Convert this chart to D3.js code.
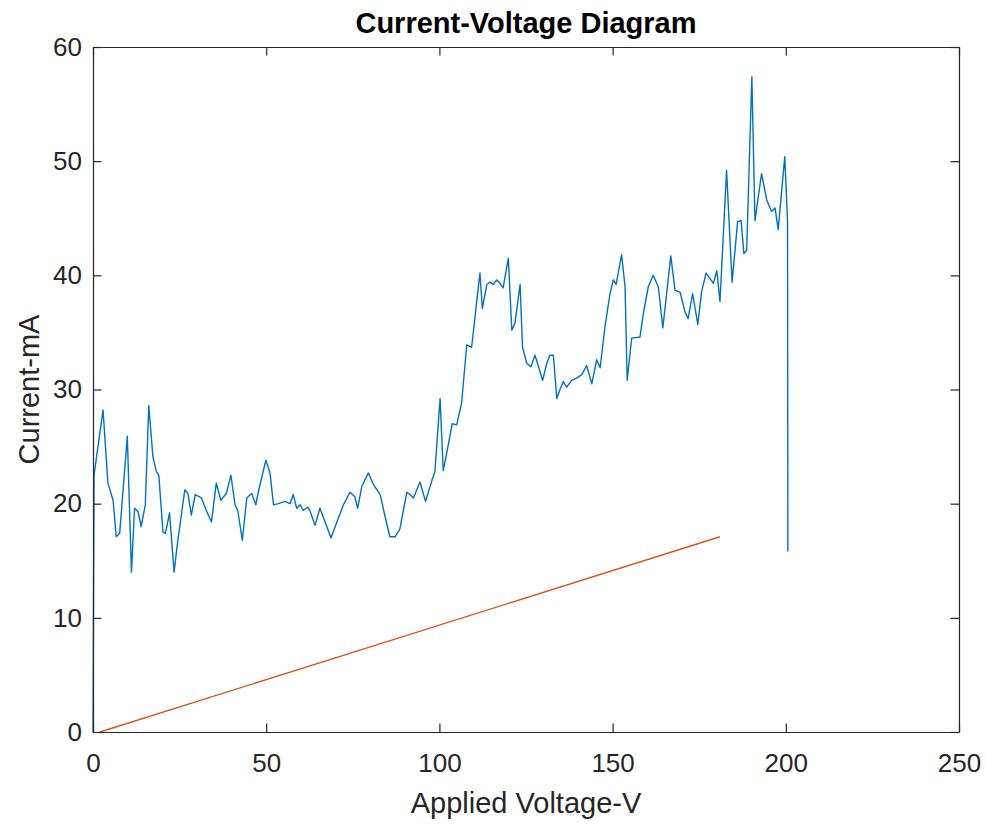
<!DOCTYPE html>
<html>
<head>
<meta charset="utf-8">
<script src="https://cdn.jsdelivr.net/npm/d3@7"></script>
<style>
  html, body { margin: 0; padding: 0; background: #fff; }
  svg { display: block; font-family: "Liberation Sans", Arial, Helvetica, sans-serif; }
</style>
</head>
<body>
<svg id="chart" width="986" height="824"></svg>
<script>
// Measured current (mA) against applied voltage (V)
const voltage = [0,0.3,1.2,2.9,4.3,5.8,6.7,7.7,9.9,11.1,12.0,13.0,13.9,15.1,16.1,17.3,18.3,19.0,20.2,20.9,22.1,23.4,24.5,26.5,27.4,28.4,29.5,31.3,32.7,34.2,35.6,36.9,38.5,39.8,41.0,41.8,43.1,44.4,45.8,47.0,47.7,49.9,51.1,52.1,53.5,55.4,56.9,57.8,58.8,59.8,60.7,62.0,62.6,64.1,65.5,67.0,68.7,70.3,72.3,74.2,75.6,76.4,77.6,79.5,80.9,82.9,84.3,85.7,87.2,88.6,90.6,91.5,92.5,94.4,96.0,97.8,98.7,100.2,101.1,102.1,103.7,105.0,106.4,107.9,109.3,110.3,111.7,112.4,113.7,114.6,115.6,116.5,117.5,118.4,119.9,120.9,121.8,123.3,124.0,125.2,126.4,127.6,128.5,129.8,131.0,131.9,132.9,133.9,134.8,135.8,136.7,138.2,139.6,141.1,142.5,144.0,145.4,146.4,147.8,149.2,150.2,151.0,152.6,153.6,154.2,155.5,157.9,158.9,160.3,161.7,163.2,164.5,165.6,166.8,168.0,169.5,170.9,171.8,173.1,174.6,175.7,177.0,178.4,179.1,180.1,181.0,182.9,184.5,186.1,187.1,187.9,188.7,190.2,191.1,193.0,194.5,195.9,196.9,197.8,199.7,200.5,200.6];
const current = [0,22.5,24.5,28.2,21.8,20.3,17.1,17.4,25.9,14.0,19.6,19.3,18.0,19.9,28.6,24.1,22.8,22.5,17.5,17.4,19.2,14.0,16.8,21.2,20.9,19.0,20.8,20.5,19.4,18.4,21.8,20.3,20.9,22.5,19.9,19.4,16.8,20.5,20.9,19.9,21.0,23.8,22.7,19.9,20.0,20.2,20.0,20.8,19.6,19.9,19.4,19.7,19.4,18.1,19.6,18.4,17.0,18.3,19.9,21.0,20.6,19.6,21.5,22.7,21.7,20.8,18.9,17.1,17.1,17.8,21.0,20.8,20.5,21.9,20.2,22.0,22.8,29.2,22.9,24.4,27.0,26.9,28.8,33.9,33.7,36.4,40.2,37.1,39.2,39.4,39.2,39.6,39.3,38.9,41.5,35.2,35.8,39.2,33.7,32.3,32.0,33.0,32.1,30.8,32.3,33.0,33.0,29.2,30.0,30.7,30.2,30.8,31.0,31.3,32.1,30.5,32.6,31.9,35.5,38.3,39.6,39.2,41.8,39.0,30.8,34.5,34.6,36.7,39.0,40.0,39.0,35.4,38.4,41.7,38.7,38.5,36.8,36.2,38.4,35.7,38.6,40.2,39.6,39.3,40.4,37.7,49.2,39.4,44.7,44.8,41.9,42.2,57.4,44.8,48.9,46.6,45.6,45.9,44.0,50.4,44.8,15.8];

// Straight reference line (endpoints)
const refVoltage = [2, 181];
const refCurrent = [0, 17.1];

const xTicks = [0, 50, 100, 150, 200, 250];
const yTicks = [0, 10, 20, 30, 40, 50, 60];

const svg = d3.select("#chart");
const plotLeft = 93, plotRight = 959, plotTop = 47, plotBottom = 732;
const axisColor = "#262626";
const tickLen = 8.5;

const x = d3.scaleLinear().domain([0, 250]).range([plotLeft, plotRight]);
const y = d3.scaleLinear().domain([0, 60]).range([plotBottom, plotTop]);

// Plot lines
const line = d3.line().x(d => x(d[0])).y(d => y(d[1]));
const measured = voltage.map((v, i) => [v, current[i]]);
const reference = refVoltage.map((v, i) => [v, refCurrent[i]]);

svg.append("path").datum(reference)
  .attr("d", line).attr("fill", "none")
  .attr("stroke", "#D95319").attr("stroke-width", 1.4);

svg.append("path").datum(measured)
  .attr("d", line).attr("fill", "none")
  .attr("stroke", "#0072BD").attr("stroke-width", 1.4)
  .attr("stroke-linejoin", "round");

// Axes (inward ticks, box on all four sides)
function styleAxis(g) {
  g.selectAll(".domain").attr("stroke", axisColor).attr("stroke-width", 1.2);
  g.selectAll(".tick line").attr("stroke", axisColor).attr("stroke-width", 1.2);
  g.selectAll(".tick text").attr("fill", axisColor)
    .attr("font-size", 26).attr("font-family", "Liberation Sans, Arial, sans-serif");
}

const xBottom = svg.append("g").attr("transform", `translate(0,${plotBottom})`)
  .call(d3.axisBottom(x).tickValues(xTicks).tickSizeInner(-tickLen).tickSizeOuter(0).tickPadding(22));
styleAxis(xBottom);

const xTop = svg.append("g").attr("transform", `translate(0,${plotTop})`)
  .call(d3.axisTop(x).tickValues(xTicks).tickSizeInner(-tickLen).tickSizeOuter(0).tickFormat(""));
styleAxis(xTop);

const yLeft = svg.append("g").attr("transform", `translate(${plotLeft},0)`)
  .call(d3.axisLeft(y).tickValues(yTicks).tickSizeInner(-tickLen).tickSizeOuter(0).tickPadding(11));
styleAxis(yLeft);

const yRight = svg.append("g").attr("transform", `translate(${plotRight},0)`)
  .call(d3.axisRight(y).tickValues(yTicks).tickSizeInner(-tickLen).tickSizeOuter(0).tickFormat(""));
styleAxis(yRight);

// Title and axis labels
svg.append("text")
  .attr("x", (plotLeft + plotRight) / 2).attr("y", 33)
  .attr("text-anchor", "middle")
  .attr("font-size", 29).attr("font-weight", "bold").attr("fill", "#000")
  .text("Current-Voltage Diagram");

svg.append("text")
  .attr("x", (plotLeft + plotRight) / 2).attr("y", 813)
  .attr("text-anchor", "middle")
  .attr("font-size", 29).attr("fill", axisColor)
  .text("Applied Voltage-V");

svg.append("text")
  .attr("transform", `translate(39,${(plotTop + plotBottom) / 2}) rotate(-90)`)
  .attr("text-anchor", "middle")
  .attr("font-size", 29).attr("fill", axisColor)
  .text("Current-mA");
</script>
</body>
</html>
